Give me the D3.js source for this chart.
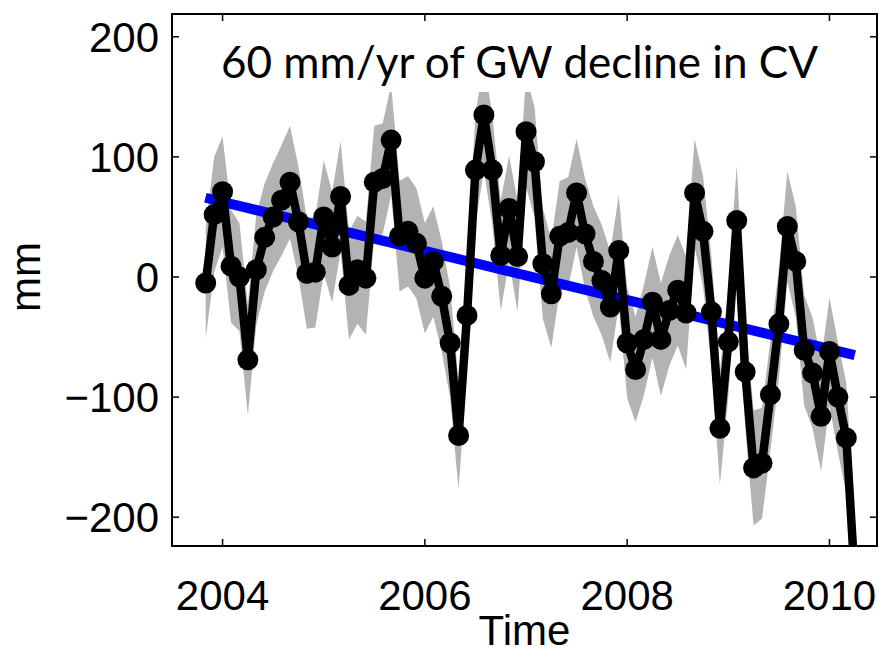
<!DOCTYPE html>
<html>
<head>
<meta charset="utf-8">
<script src="https://cdn.jsdelivr.net/npm/d3@7"></script>
<style>
  html, body { margin: 0; padding: 0; background: #fff; }
  svg { display: block; }
</style>
</head>
<body>
<script>
// monthly groundwater anomaly, first sample Nov 2003
const firstYear = 2003;
const firstMonth = 10; // 0-based month index of the first sample
const gwMm = [
  -5, 52, 71, 9, 0, -69, 6, 33, 50, 64,
  79, 46, 3, 4, 50, 25, 67, -7, 6, -1,
  79, 82, 114, 34, 38, 28, -1, 13, -16, -55,
  -132, -32, 89, 135, 89, 18, 57, 17, 121, 96,
  11, -14, 34, 37, 70, 36, 13, -3, -25, 22,
  -55, -77, -52, -21, -52, -28, -11, -30, 70, 38,
  -29, -126, -54, 47, -79, -159, -155, -98, -39, 42,
  13, -61, -80, -116, -62, -100, -134, -250
];
// half width of the gray uncertainty band
const errMm = [
  46, 48, 46, 47, 45, 46, 46, 45, 45, 46,
  47, 46, 46, 46, 47, 46, 46, 45, 45, 47,
  47, 46, 46, 46, 46, 46, 46, 46, 46, 46,
  45, 45, 46, 46, 46, 46, 44, 46, 46, 46,
  46, 45, 46, 46, 45, 46, 46, 46, 46, 46,
  46, 44, 46, 46, 47, 46, 46, 47, 45, 46,
  46, 47, 46, 46, 46, 48, 46, 46, 46, 46,
  46, 46, 46, 46, 45, 46, 46, 46
];
const trendYears = [2003.83, 2010.25];
const trendMm = [66, -65];
const xTicks = [2004, 2006, 2008, 2010];
const yTicks = [-200, -100, 0, 100, 200];
const titleText = '60 mm/yr of GW decline in CV';

(function () {
  const width = 879;
  const height = 653;
  const margin = { left: 172, right: 2, top: 14, bottom: 107 };
  const plotW = width - margin.left - margin.right;
  const plotH = height - margin.top - margin.bottom;

  const data = gwMm.map((v, i) => ({
    t: firstYear + (firstMonth + i) / 12,
    v: v,
    e: errMm[i]
  }));

  const x = d3.scaleLinear().domain([2003.5, 2010.47]).range([0, plotW]);
  const y = d3.scaleLinear().domain([-224, 219]).range([plotH, 0]);

  const svg = d3.select('body').append('svg')
    .attr('width', width)
    .attr('height', height);

  svg.append('defs').append('clipPath')
    .attr('id', 'plot-clip')
    .append('rect')
    .attr('width', plotW)
    .attr('height', plotH);

  const g = svg.append('g')
    .attr('transform', `translate(${margin.left},${margin.top})`);

  const plot = g.append('g').attr('clip-path', 'url(#plot-clip)');

  const band = d3.area()
    .x(d => x(d.t))
    .y0(d => y(d.v - d.e))
    .y1(d => y(d.v + d.e));

  plot.append('path')
    .datum(data)
    .attr('fill', '#b3b3b3')
    .attr('d', band);

  plot.append('path')
    .datum(trendYears.map((t, i) => [t, trendMm[i]]))
    .attr('fill', 'none')
    .attr('stroke', '#0000ff')
    .attr('stroke-width', 10)
    .attr('d', d3.line().x(d => x(d[0])).y(d => y(d[1])));

  plot.append('path')
    .datum(data)
    .attr('fill', 'none')
    .attr('stroke', '#000')
    .attr('stroke-width', 8.5)
    .attr('stroke-linejoin', 'round')
    .attr('d', d3.line().x(d => x(d.t)).y(d => y(d.v)));

  plot.selectAll('circle')
    .data(data)
    .enter()
    .append('circle')
    .attr('cx', d => x(d.t))
    .attr('cy', d => y(d.v))
    .attr('r', 10.5)
    .attr('fill', '#000');

  // title sits on a white box that hides the band under it
  plot.append('rect')
    .attr('x', 40)
    .attr('y', 14)
    .attr('width', 620)
    .attr('height', 64)
    .attr('fill', '#fff');

  g.append('text')
    .attr('x', 49)
    .attr('y', 64)
    .attr('font-family', 'Lato, "Open Sans", sans-serif')
    .attr('font-size', 44)
    .attr('textLength', 597)
    .attr('lengthAdjust', 'spacingAndGlyphs')
    .attr('fill', '#000')
    .text(titleText);

  // axes: box with inward ticks on all four sides
  const tickLen = 7;
  const axisFont = '"Liberation Sans", Arial, Helvetica, sans-serif';

  g.append('rect')
    .attr('width', plotW)
    .attr('height', plotH)
    .attr('fill', 'none')
    .attr('stroke', '#000')
    .attr('stroke-width', 2);

  const xt = g.append('g');
  xTicks.forEach(t => {
    xt.append('line')
      .attr('x1', x(t)).attr('x2', x(t))
      .attr('y1', plotH).attr('y2', plotH - tickLen)
      .attr('stroke', '#000').attr('stroke-width', 1.5);
    xt.append('line')
      .attr('x1', x(t)).attr('x2', x(t))
      .attr('y1', 0).attr('y2', tickLen)
      .attr('stroke', '#000').attr('stroke-width', 1.5);
    xt.append('text')
      .attr('x', x(t))
      .attr('y', plotH + 64)
      .attr('text-anchor', 'middle')
      .attr('font-family', axisFont)
      .attr('font-size', 42)
      .text(t);
  });

  const yt = g.append('g');
  yTicks.forEach(v => {
    yt.append('line')
      .attr('x1', 0).attr('x2', tickLen)
      .attr('y1', y(v)).attr('y2', y(v))
      .attr('stroke', '#000').attr('stroke-width', 1.5);
    yt.append('line')
      .attr('x1', plotW).attr('x2', plotW - tickLen)
      .attr('y1', y(v)).attr('y2', y(v))
      .attr('stroke', '#000').attr('stroke-width', 1.5);
    yt.append('text')
      .attr('x', -13)
      .attr('y', y(v) + 15)
      .attr('text-anchor', 'end')
      .attr('font-family', axisFont)
      .attr('font-size', 42)
      .text(v < 0 ? '\u2212' + Math.abs(v) : v);
  });

  svg.append('text')
    .attr('transform', `translate(40,${margin.top + y(0)}) rotate(-90)`)
    .attr('text-anchor', 'middle')
    .attr('font-family', axisFont)
    .attr('font-size', 42)
    .text('mm');

  svg.append('text')
    .attr('x', margin.left + plotW / 2)
    .attr('y', 645)
    .attr('text-anchor', 'middle')
    .attr('font-family', axisFont)
    .attr('font-size', 42)
    .text('Time');
})();
</script>
</body>
</html>
